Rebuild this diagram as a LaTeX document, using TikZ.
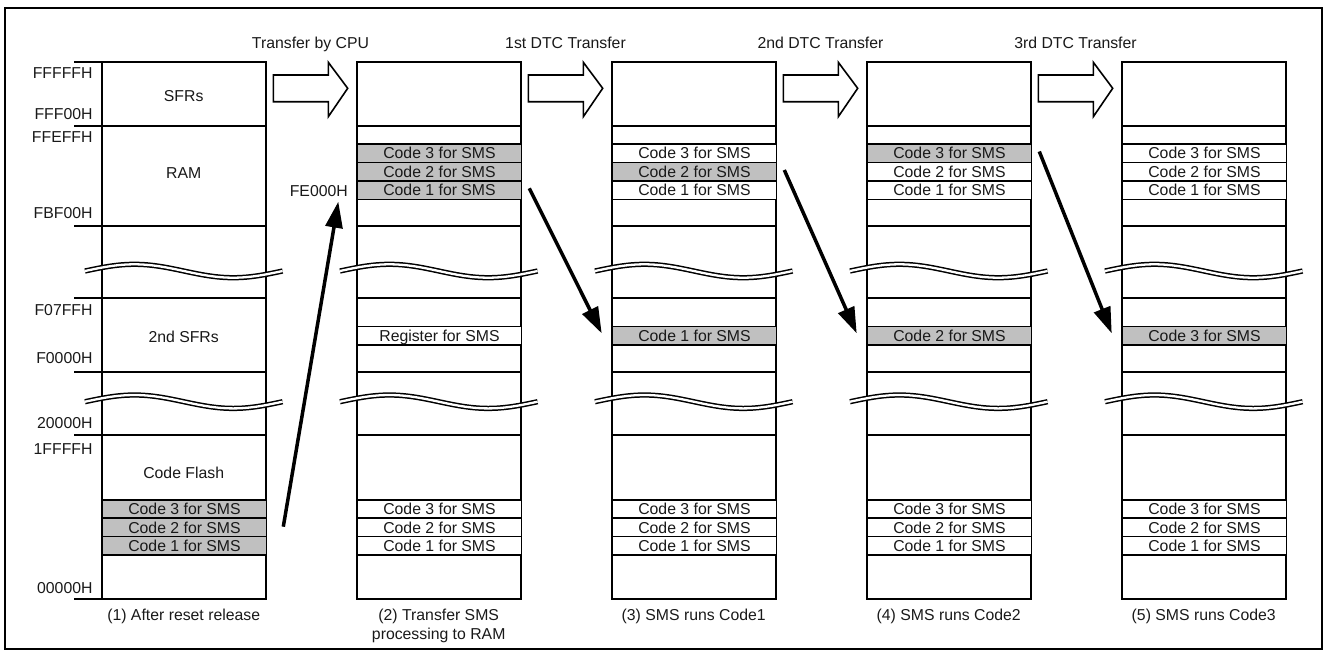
\documentclass[tikz,border=0pt]{standalone}
\usepackage{fontspec}
\setmainfont{Liberation Sans}
\usetikzlibrary{arrows.meta}
\definecolor{shade}{RGB}{192,192,192}
\begin{document}
\begin{tikzpicture}[x=1pt,y=-1pt,
  every node/.style={font=\fontsize{15.8}{18.3}\selectfont, inner sep=0pt, text=black!90},
  lbl/.style={text height=11.3pt, text depth=0pt},
  memline/.style={line width=1.8pt},
  rowbox/.style={draw, line width=1.6pt, minimum width=164pt, minimum height=18.4pt,
    anchor=north west, text height=11.3pt, text depth=0pt},
  brk/.style={draw=black, line width=1.5pt, double=white, double distance=2.3pt},
  hollow/.style={draw, line width=1.6pt, line join=miter, fill=white},
  bigarrow/.style={line width=3.5pt, -{Triangle[length=26pt,width=17pt]}},
]
\useasboundingbox (0,0) rectangle (1328,657);
% outer frame
\draw[line width=1.8pt] (5,8) rectangle (1322,649);

% memory columns
\foreach \k in {1,...,5} {
  \pgfmathsetmacro\X{101.7+255*(\k-1)}
  \draw[memline, fill=white] (\X,61.7) rectangle ++(164,537.3);
  \foreach \yy in {125.7,225.7,298.3,371.7,435}
    \draw[memline] (\X,\yy) -- ++(164,0);
}

% address ticks for column 1
\foreach \yy in {61.7,125.7,225.7,298.3,371.7,435,599}
  \draw[memline] (74,\yy) -- (101.7,\yy);

% address labels
\foreach \yy/\t/\n in {72.7/FFFFFH/adA, 114/FFF00H/adB, 136.7/FFEFFH/adC, 212.7/FBF00H/adD,
    310/F07FFH/adE, 358.3/F0000H/adF, 422.7/20000H/adG, 449/1FFFFH/adH, 587.7/00000H/adI}
  \node[lbl, anchor=east] (\n) at (92.7,\yy) {\t};

% region labels in column 1
\node[lbl] (sfr) at (183.7,96) {SFRs};
\node[lbl] (ram) at (183.7,172.7) {RAM};
\node[lbl] (sfr2) at (183.7,336.7) {2nd SFRs};
\node[lbl] (cfl) at (183.7,473.3) {Code Flash};

% code rows (column/top y/fill/text/name)
\foreach \k/\y/\f/\t/\n in {
   1/499/shade/Code 3 for SMS/r1l3, 1/517.4/shade/Code 2 for SMS/r1l2, 1/535.8/shade/Code 1 for SMS/r1l1,
   2/143.3/shade/Code 3 for SMS/r2u3, 2/161.7/shade/Code 2 for SMS/r2u2, 2/180.1/shade/Code 1 for SMS/r2u1,
   2/325.7/white/Register for SMS/r2m,
   2/499/white/Code 3 for SMS/r2l3, 2/517.4/white/Code 2 for SMS/r2l2, 2/535.8/white/Code 1 for SMS/r2l1,
   3/143.3/white/Code 3 for SMS/r3u3, 3/161.7/shade/Code 2 for SMS/r3u2, 3/180.1/white/Code 1 for SMS/r3u1,
   3/325.7/shade/Code 1 for SMS/r3m,
   3/499/white/Code 3 for SMS/r3l3, 3/517.4/white/Code 2 for SMS/r3l2, 3/535.8/white/Code 1 for SMS/r3l1,
   4/143.3/shade/Code 3 for SMS/r4u3, 4/161.7/white/Code 2 for SMS/r4u2, 4/180.1/white/Code 1 for SMS/r4u1,
   4/325.7/shade/Code 2 for SMS/r4m,
   4/499/white/Code 3 for SMS/r4l3, 4/517.4/white/Code 2 for SMS/r4l2, 4/535.8/white/Code 1 for SMS/r4l1,
   5/143.3/white/Code 3 for SMS/r5u3, 5/161.7/white/Code 2 for SMS/r5u2, 5/180.1/white/Code 1 for SMS/r5u1,
   5/325.7/shade/Code 3 for SMS/r5m,
   5/499/white/Code 3 for SMS/r5l3, 5/517.4/white/Code 2 for SMS/r5l2, 5/535.8/white/Code 1 for SMS/r5l1}
  \node[rowbox, fill=\f] (\n) at ({101.7+255*(\k-1)},\y) {\t};

% break marks
\foreach \k in {1,...,5} {
  \foreach \yc in {271,401.7} {
    \pgfmathsetmacro\xs{101.7+255*(\k-1)-16.7}
    \draw[brk] (\xs,\yc) sin ++(49.4,-6.7) cos ++(49.4,6.7) sin ++(49.4,6.7) cos ++(49.4,-6.7);
  }
}

% hollow transfer arrows and their labels
\foreach \k/\t in {1/Transfer by CPU, 2/1st DTC Transfer, 3/2nd DTC Transfer, 4/3rd DTC Transfer} {
  \pgfmathsetmacro\xa{273.3+255*(\k-1)}
  \draw[hollow] (\xa,75) -- ++(55,0) -- ++(0,-12.7) -- ++(19.4,26) -- ++(-19.4,28.4)
     -- ++(0,-15) -- ++(-55,0) -- cycle;
  \node[lbl] (tl\k) at ({\xa+37.2},43) {\t};
}

% FE000H label
\node[lbl, anchor=east] (fe) at (348,190.7) {FE000H};

% thick arrows
\coordinate (aS) at (283.3,526.7);
\coordinate (aE) at (338.3,201.7);
\coordinate (bS) at (529.3,188.3);
\coordinate (bE) at (601.7,333.3);
\coordinate (cS) at (784.3,170);
\coordinate (cE) at (856.7,333.3);
\coordinate (dS) at (1039.3,151.5);
\coordinate (dE) at (1111.7,333.3);
\draw[bigarrow] (aS) -- (aE);
\draw[bigarrow] (bS) -- (bE);
\draw[bigarrow] (cS) -- (cE);
\draw[bigarrow] (dS) -- (dE);

% captions
\node[lbl] (cap1) at (183.7,615) {(1) After reset release};
\node[align=center] (cap2) at (438.7,626) {(2) Transfer SMS\\processing to RAM};
\node[lbl] (cap3) at (693.7,615) {(3) SMS runs Code1};
\node[lbl] (cap4) at (948.7,615) {(4) SMS runs Code2};
\node[lbl] (cap5) at (1203.7,615) {(5) SMS runs Code3};
\end{tikzpicture}
\end{document}
